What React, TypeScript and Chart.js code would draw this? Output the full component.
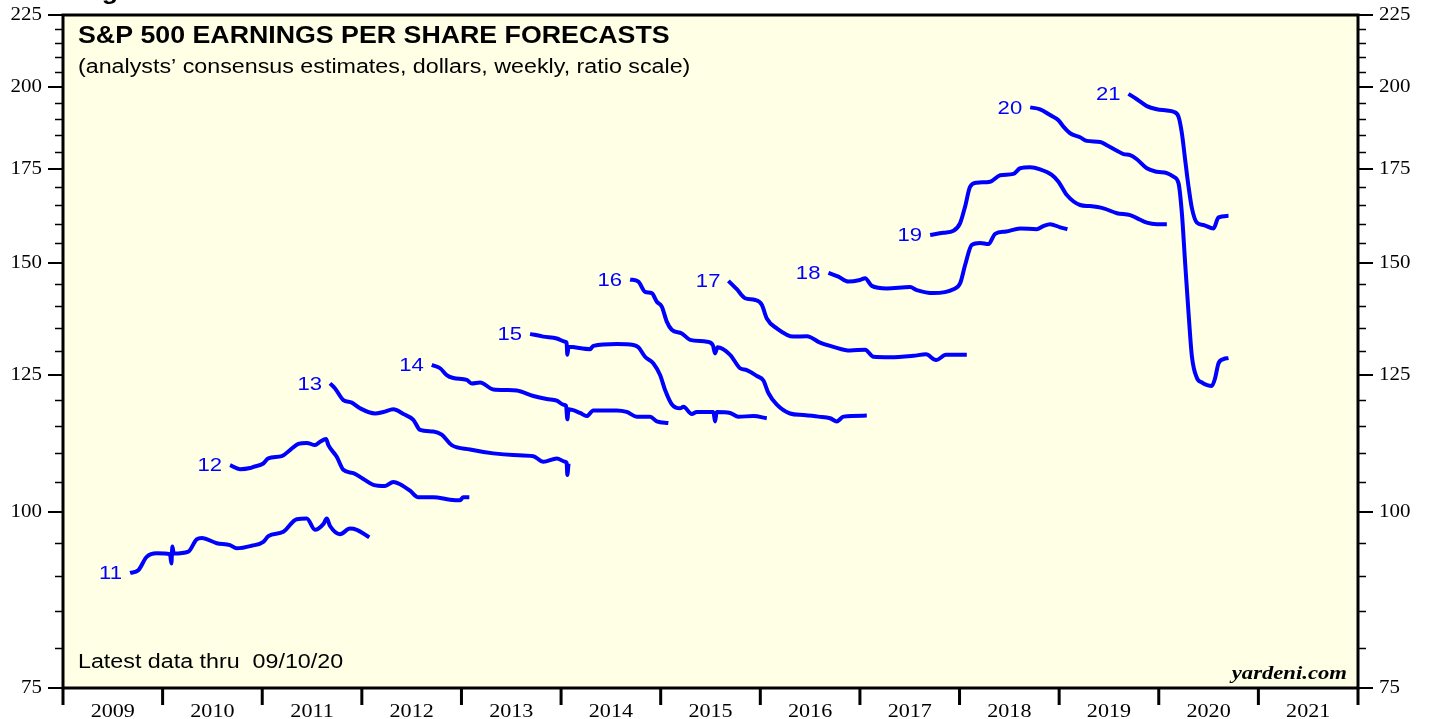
import React, { useEffect, useRef } from 'react';
import { Chart, registerables } from 'chart.js';

Chart.register(...registerables);

const W = 1429;
const H = 719;

// ---------- axes ----------
const yearLabels = ['2009', '2010', '2011', '2012', '2013', '2014', '2015', '2016', '2017', '2018', '2019', '2020', '2021'];
const yearBoundaries = [2009, 2010, 2011, 2012, 2013, 2014, 2015, 2016, 2017, 2018, 2019, 2020, 2021, 2022];
const xMin = 2009;
const xMax = 2022;
const yMin = 75;
const yMax = 225;
const yMajorTicks = [75, 100, 125, 150, 175, 200, 225];
const yMinorTicks = [80, 85, 90, 95, 105, 110, 115, 120, 130, 135, 140, 145, 155, 160, 165, 170, 180, 185, 190, 195, 205, 210, 215, 220];

// ---------- texts ----------
const titleText = 'S&P 500 EARNINGS PER SHARE FORECASTS';
const subtitleText = '(analysts\u2019 consensus estimates, dollars, weekly, ratio scale)';
const footnoteText = 'Latest data thru  09/10/20';
const sourceText = 'yardeni.com';
const figureText = 'Figure 1.';

// ---------- series (x = decimal year, y = EPS forecast in dollars) ----------
const seriesLabels = ['11', '12', '13', '14', '15', '16', '17', '18', '19', '20', '21'];

const eps11X = [2009.673, 2009.756, 2009.840, 2009.941, 2010.074, 2010.088, 2010.098, 2010.112, 2010.258, 2010.342, 2010.393, 2010.543, 2010.677, 2010.744, 2010.895, 2011.011, 2011.061, 2011.212, 2011.346, 2011.447, 2011.530, 2011.613, 2011.648, 2011.681, 2011.781, 2011.881, 2011.949, 2012.075];
const eps11Y = [90.5, 90.9, 92.9, 93.45, 93.3, 91.9, 94.5, 93.4, 93.7, 95.6, 95.8, 95.0, 94.7, 94.2, 94.6, 95.2, 96.1, 96.8, 98.8, 98.9, 97.1, 98.0, 98.9, 97.7, 96.4, 97.3, 97.1, 95.9];

const eps12X = [2010.677, 2010.777, 2010.878, 2010.911, 2011.011, 2011.061, 2011.196, 2011.279, 2011.362, 2011.447, 2011.530, 2011.580, 2011.641, 2011.664, 2011.748, 2011.814, 2011.915, 2012.015, 2012.115, 2012.233, 2012.316, 2012.384, 2012.484, 2012.567, 2012.718, 2012.886, 2012.986, 2013.018, 2013.079];
const eps12Y = [107.9, 107.2, 107.4, 107.6, 108.2, 109.1, 109.5, 110.6, 111.7, 111.9, 111.5, 112.1, 112.6, 111.5, 109.4, 107.1, 106.5, 105.5, 104.5, 104.3, 105.0, 104.6, 103.5, 102.4, 102.4, 102.0, 101.9, 102.4, 102.4];

const eps13X = [2011.681, 2011.731, 2011.814, 2011.899, 2011.982, 2012.133, 2012.216, 2012.316, 2012.417, 2012.517, 2012.584, 2012.718, 2012.802, 2012.902, 2013.086, 2013.320, 2013.521, 2013.722, 2013.822, 2013.957, 2014.040, 2014.056, 2014.063, 2014.075];
const eps13Y = [123.3, 122.3, 120.0, 119.5, 118.4, 117.4, 117.7, 118.2, 117.3, 116.2, 114.3, 114.0, 113.4, 111.5, 110.7, 110.0, 109.7, 109.5, 108.5, 109.1, 108.5, 108.3, 106.2, 108.2];

const eps14X = [2012.702, 2012.786, 2012.852, 2012.919, 2013.053, 2013.103, 2013.187, 2013.320, 2013.455, 2013.555, 2013.722, 2013.856, 2013.957, 2014.023, 2014.050, 2014.063, 2014.075, 2014.191, 2014.258, 2014.324, 2014.559, 2014.659, 2014.760, 2014.894, 2014.961, 2015.077];
const eps14Y = [127.1, 126.4, 125.0, 124.4, 124.0, 123.3, 123.5, 122.1, 122.0, 121.9, 120.8, 120.2, 119.9, 119.1, 118.9, 116.3, 118.2, 117.5, 116.9, 118.0, 118.0, 117.7, 116.8, 116.8, 115.9, 115.6];

const eps15X = [2013.689, 2013.822, 2013.957, 2014.040, 2014.055, 2014.063, 2014.075, 2014.291, 2014.324, 2014.559, 2014.726, 2014.776, 2014.843, 2014.927, 2014.994, 2015.044, 2015.111, 2015.194, 2015.228, 2015.312, 2015.362, 2015.529, 2015.546, 2015.562, 2015.697, 2015.780, 2015.931, 2016.065];
const eps15Y = [133.7, 133.1, 132.7, 132.0, 131.8, 129.2, 130.9, 130.4, 131.1, 131.5, 131.3, 130.8, 128.8, 127.4, 125.0, 122.0, 119.2, 118.4, 118.7, 117.3, 117.7, 117.7, 115.9, 117.7, 117.5, 116.8, 116.9, 116.5];

const eps16X = [2014.693, 2014.776, 2014.843, 2014.911, 2014.961, 2015.011, 2015.061, 2015.111, 2015.212, 2015.295, 2015.463, 2015.523, 2015.546, 2015.570, 2015.697, 2015.797, 2015.864, 2015.965, 2016.031, 2016.081, 2016.166, 2016.299, 2016.433, 2016.584, 2016.701, 2016.768, 2016.835, 2017.069];
const eps16Y = [146.1, 145.6, 143.2, 142.9, 140.9, 139.8, 136.4, 134.6, 133.8, 132.4, 132.0, 131.3, 129.5, 130.8, 129.2, 126.4, 126.0, 124.8, 123.9, 121.4, 119.1, 117.4, 117.1, 116.8, 116.5, 115.9, 116.8, 117.0];

const eps17X = [2015.680, 2015.764, 2015.847, 2015.948, 2016.015, 2016.065, 2016.166, 2016.332, 2016.467, 2016.600, 2016.734, 2016.902, 2017.052, 2017.136, 2017.303, 2017.537, 2017.663, 2017.764, 2017.864, 2018.073];
const eps17Y = [145.8, 143.8, 141.7, 141.3, 140.2, 137.1, 134.9, 133.1, 133.2, 131.8, 130.9, 130.1, 130.3, 128.8, 128.7, 129.0, 129.3, 128.1, 129.2, 129.2];

const eps18X = [2016.684, 2016.784, 2016.884, 2017.001, 2017.052, 2017.119, 2017.270, 2017.504, 2017.571, 2017.738, 2017.939, 2018.006, 2018.056, 2018.123, 2018.207, 2018.290, 2018.357, 2018.467, 2018.608, 2018.774, 2018.841, 2018.909, 2019.010, 2019.083];
const eps18Y = [147.7, 146.8, 145.6, 146.0, 146.4, 144.6, 144.0, 144.3, 143.6, 142.9, 143.8, 145.2, 149.6, 154.6, 155.1, 154.8, 157.4, 158.0, 158.8, 158.6, 159.4, 159.9, 159.1, 158.6];

const eps19X = [2017.705, 2017.838, 2017.939, 2018.006, 2018.056, 2018.106, 2018.173, 2018.307, 2018.408, 2018.541, 2018.608, 2018.709, 2018.809, 2018.926, 2018.993, 2019.077, 2019.210, 2019.307, 2019.445, 2019.580, 2019.713, 2019.780, 2019.880, 2019.981, 2020.081];
const eps19Y = [157.1, 157.7, 158.2, 160.2, 164.6, 170.0, 171.1, 171.4, 173.2, 173.6, 175.2, 175.5, 174.9, 173.3, 171.4, 167.7, 165.0, 164.7, 164.1, 162.8, 162.3, 161.5, 160.3, 159.9, 159.9];

const eps20X = [2018.709, 2018.809, 2018.909, 2018.993, 2019.043, 2019.110, 2019.210, 2019.278, 2019.412, 2019.479, 2019.580, 2019.646, 2019.713, 2019.780, 2019.880, 2019.981, 2020.081, 2020.148, 2020.198, 2020.232, 2020.265, 2020.299, 2020.333, 2020.383, 2020.433, 2020.533, 2020.566, 2020.599, 2020.650, 2020.700];
const eps20Y = [193.5, 192.9, 191.1, 189.5, 187.5, 185.5, 184.3, 183.2, 182.9, 181.9, 180.3, 179.3, 179.0, 177.8, 175.2, 174.2, 173.8, 172.8, 171.0, 162.8, 150.0, 138.3, 128.8, 124.4, 123.5, 122.8, 124.4, 127.4, 128.3, 128.5];

const eps21X = [2019.696, 2019.780, 2019.880, 2019.981, 2020.081, 2020.148, 2020.198, 2020.232, 2020.265, 2020.299, 2020.333, 2020.383, 2020.449, 2020.549, 2020.600, 2020.700];
const eps21Y = [197.8, 196.1, 193.9, 192.9, 192.5, 192.1, 190.6, 185.5, 177.6, 170.0, 164.1, 160.3, 159.7, 158.8, 161.7, 162.1];

const seriesX = [eps11X, eps12X, eps13X, eps14X, eps15X, eps16X, eps17X, eps18X, eps19X, eps20X, eps21X];
const seriesY = [eps11Y, eps12Y, eps13Y, eps14Y, eps15Y, eps16Y, eps17Y, eps18Y, eps19Y, eps20Y, eps21Y];

// ---------- styles ----------
const LINE_COLOR = '#0000ff';
const PLOT_BG = '#ffffe6';
const TEXT_STRETCH = 1.163;
const SANS = '"Liberation Sans", Arial, sans-serif';
const SERIF = '"Liberation Serif", "Times New Roman", serif';

function drawText(
  ctx: CanvasRenderingContext2D,
  text: string,
  x: number,
  y: number,
  font: string,
  align: 'left' | 'right' | 'center',
  baseline: CanvasTextBaseline,
  color: string
) {
  ctx.save();
  ctx.font = font;
  ctx.fillStyle = color;
  ctx.textBaseline = baseline;
  ctx.textAlign = 'left';
  const w = ctx.measureText(text).width * TEXT_STRETCH;
  let left = x;
  if (align === 'right') left = x - w;
  else if (align === 'center') left = x - w / 2;
  ctx.translate(left, y);
  ctx.scale(TEXT_STRETCH, 1);
  ctx.fillText(text, 0, 0);
  ctx.restore();
}

const framePlugin = {
  id: 'yardeniFrame',
  beforeDraw(chart: any) {
    const { ctx, chartArea: a } = chart;
    ctx.save();
    ctx.fillStyle = '#ffffff';
    ctx.fillRect(0, 0, chart.width, chart.height);
    ctx.fillStyle = PLOT_BG;
    ctx.fillRect(a.left, a.top, a.right - a.left, a.bottom - a.top);
    ctx.restore();
  },
  afterDatasetsDraw(chart: any) {
    const { ctx, chartArea: a } = chart;
    const xs = chart.scales.x;
    const ys = chart.scales.y;
    ctx.save();

    // frame
    ctx.strokeStyle = '#000';
    ctx.lineWidth = 3;
    ctx.strokeRect(a.left, a.top, a.right - a.left, a.bottom - a.top);

    // y ticks (both sides)
    ctx.lineWidth = 1.5;
    ctx.beginPath();
    yMinorTicks.forEach((v) => {
      const y = Math.round(ys.getPixelForValue(v)) + 0.5;
      ctx.moveTo(a.left - 8, y);
      ctx.lineTo(a.left, y);
      ctx.moveTo(a.right, y);
      ctx.lineTo(a.right + 8, y);
    });
    ctx.stroke();
    ctx.lineWidth = 2;
    ctx.beginPath();
    yMajorTicks.forEach((v) => {
      const y = Math.round(ys.getPixelForValue(v));
      ctx.moveTo(a.left - 15, y);
      ctx.lineTo(a.left, y);
      ctx.moveTo(a.right, y);
      ctx.lineTo(a.right + 15, y);
    });
    ctx.stroke();
    yMajorTicks.forEach((v) => {
      const y = ys.getPixelForValue(v);
      drawText(ctx, String(v), a.left - 21, y, '18px ' + SERIF, 'right', 'middle', '#000');
      drawText(ctx, String(v), a.right + 21, y, '18px ' + SERIF, 'left', 'middle', '#000');
    });

    // x ticks at year boundaries
    ctx.lineWidth = 3;
    ctx.beginPath();
    yearBoundaries.forEach((v) => {
      const x = xs.getPixelForValue(v);
      ctx.moveTo(x, a.bottom);
      ctx.lineTo(x, a.bottom + 17);
    });
    ctx.stroke();
    yearLabels.forEach((lab, i) => {
      const x = xs.getPixelForValue(yearBoundaries[i] + 0.5);
      drawText(ctx, lab, x, 717, '19px ' + SERIF, 'center', 'alphabetic', '#000');
    });

    // series labels at first point of each line
    seriesLabels.forEach((lab, i) => {
      const meta = chart.getDatasetMeta(i);
      const p = meta.data[0];
      if (!p) return;
      drawText(ctx, lab, p.x - 8, p.y + 1, '19px ' + SANS, 'right', 'middle', LINE_COLOR);
    });

    // texts
    drawText(ctx, figureText, 78, -1, 'bold 23px ' + SANS, 'left', 'alphabetic', '#000');
    drawText(ctx, titleText, 78, 43, 'bold 23px ' + SANS, 'left', 'alphabetic', '#000');
    drawText(ctx, subtitleText, 78, 73, '20px ' + SANS, 'left', 'alphabetic', '#000');
    drawText(ctx, footnoteText, 78, 668, '20px ' + SANS, 'left', 'alphabetic', '#000');
    drawText(ctx, sourceText, a.right - 11, 679, 'italic bold 19.5px ' + SERIF, 'right', 'alphabetic', '#000');

    ctx.restore();
  },
};

export default function App() {
  const canvasRef = useRef<HTMLCanvasElement | null>(null);

  useEffect(() => {
    const canvas = canvasRef.current;
    if (!canvas) return;
    const datasets = seriesLabels.map((lab, i) => ({
      label: lab,
      data: seriesX[i].map((x, j) => ({ x, y: seriesY[i][j] })),
      borderColor: LINE_COLOR,
      backgroundColor: LINE_COLOR,
      borderWidth: 4,
      pointRadius: 0,
      pointHoverRadius: 0,
      fill: false,
      cubicInterpolationMode: 'monotone' as const,
      borderJoinStyle: 'round' as const,
      borderCapStyle: 'butt' as const,
    }));
    const chart = new Chart(canvas, {
      type: 'line',
      data: { datasets },
      options: {
        responsive: false,
        maintainAspectRatio: false,
        animation: false,
        devicePixelRatio: 1,
        layout: { padding: { left: 63, right: W - 1358, top: 15, bottom: H - 688 } },
        plugins: {
          legend: { display: false },
          tooltip: { enabled: false },
          title: { display: false },
        },
        events: [],
        scales: {
          x: { type: 'linear', min: xMin, max: xMax, display: false },
          y: { type: 'logarithmic', min: yMin, max: yMax, display: false },
        },
      },
      plugins: [framePlugin],
    });
    return () => chart.destroy();
  }, []);

  return (
    <div style={{ position: 'absolute', left: 0, top: 0, width: W, height: H, background: '#fff' }}>
      <canvas ref={canvasRef} width={W} height={H} style={{ display: 'block', width: W, height: H }} />
    </div>
  );
}
